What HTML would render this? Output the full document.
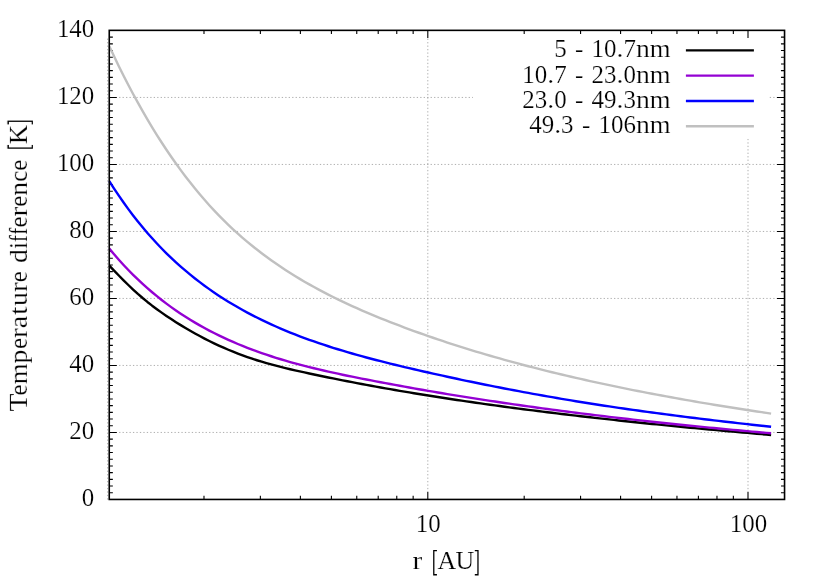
<!DOCTYPE html>
<html><head><meta charset="utf-8"><title>plot</title>
<style>html,body{margin:0;padding:0;background:#fff;}svg{display:block;}text{font-family:"Liberation Serif",serif;fill:#000;stroke:#fff;stroke-width:0.2px;}</style></head><body>
<svg width="830" height="581" viewBox="0 0 830 581">
<rect width="830" height="581" fill="#fff"/>
<g stroke="#909090" stroke-width="0.72" stroke-dasharray="1.3 2.156" fill="none">
<g stroke-dasharray="1.3 2.161">
<line x1="119.11" y1="432.45" x2="776.95" y2="432.45"/>
<line x1="119.11" y1="365.45" x2="776.95" y2="365.45"/>
<line x1="119.11" y1="298.45" x2="776.95" y2="298.45"/>
<line x1="119.11" y1="231.45" x2="776.95" y2="231.45"/>
<line x1="119.11" y1="164.45" x2="776.95" y2="164.45"/>
<line x1="119.11" y1="97.45" x2="776.95" y2="97.45"/>
</g>
<line x1="107.60" y1="499.57" x2="107.60" y2="37.95"/>
<line x1="427.80" y1="489.2" x2="427.80" y2="37.95"/>
<line x1="748.00" y1="489.2" x2="748.00" y2="37.95"/>
</g>
<rect x="473.0" y="37.8" width="296.0" height="101.00" fill="#fff"/>
<g stroke="#000" stroke-width="1.1" fill="none">
<path d="M109.25,499.45h7.6 M784.55,499.45h-7.6"/>
<path d="M109.25,492.75h3.6 M784.55,492.75h-3.6"/>
<path d="M109.25,486.05h3.6 M784.55,486.05h-3.6"/>
<path d="M109.25,479.35h3.6 M784.55,479.35h-3.6"/>
<path d="M109.25,472.65h3.6 M784.55,472.65h-3.6"/>
<path d="M109.25,465.95h3.6 M784.55,465.95h-3.6"/>
<path d="M109.25,459.25h3.6 M784.55,459.25h-3.6"/>
<path d="M109.25,452.55h3.6 M784.55,452.55h-3.6"/>
<path d="M109.25,445.85h3.6 M784.55,445.85h-3.6"/>
<path d="M109.25,439.15h3.6 M784.55,439.15h-3.6"/>
<path d="M109.25,432.45h7.6 M784.55,432.45h-7.6"/>
<path d="M109.25,425.75h3.6 M784.55,425.75h-3.6"/>
<path d="M109.25,419.05h3.6 M784.55,419.05h-3.6"/>
<path d="M109.25,412.35h3.6 M784.55,412.35h-3.6"/>
<path d="M109.25,405.65h3.6 M784.55,405.65h-3.6"/>
<path d="M109.25,398.95h3.6 M784.55,398.95h-3.6"/>
<path d="M109.25,392.25h3.6 M784.55,392.25h-3.6"/>
<path d="M109.25,385.55h3.6 M784.55,385.55h-3.6"/>
<path d="M109.25,378.85h3.6 M784.55,378.85h-3.6"/>
<path d="M109.25,372.15h3.6 M784.55,372.15h-3.6"/>
<path d="M109.25,365.45h7.6 M784.55,365.45h-7.6"/>
<path d="M109.25,358.75h3.6 M784.55,358.75h-3.6"/>
<path d="M109.25,352.05h3.6 M784.55,352.05h-3.6"/>
<path d="M109.25,345.35h3.6 M784.55,345.35h-3.6"/>
<path d="M109.25,338.65h3.6 M784.55,338.65h-3.6"/>
<path d="M109.25,331.95h3.6 M784.55,331.95h-3.6"/>
<path d="M109.25,325.25h3.6 M784.55,325.25h-3.6"/>
<path d="M109.25,318.55h3.6 M784.55,318.55h-3.6"/>
<path d="M109.25,311.85h3.6 M784.55,311.85h-3.6"/>
<path d="M109.25,305.15h3.6 M784.55,305.15h-3.6"/>
<path d="M109.25,298.45h7.6 M784.55,298.45h-7.6"/>
<path d="M109.25,291.75h3.6 M784.55,291.75h-3.6"/>
<path d="M109.25,285.05h3.6 M784.55,285.05h-3.6"/>
<path d="M109.25,278.35h3.6 M784.55,278.35h-3.6"/>
<path d="M109.25,271.65h3.6 M784.55,271.65h-3.6"/>
<path d="M109.25,264.95h3.6 M784.55,264.95h-3.6"/>
<path d="M109.25,258.25h3.6 M784.55,258.25h-3.6"/>
<path d="M109.25,251.55h3.6 M784.55,251.55h-3.6"/>
<path d="M109.25,244.85h3.6 M784.55,244.85h-3.6"/>
<path d="M109.25,238.15h3.6 M784.55,238.15h-3.6"/>
<path d="M109.25,231.45h7.6 M784.55,231.45h-7.6"/>
<path d="M109.25,224.75h3.6 M784.55,224.75h-3.6"/>
<path d="M109.25,218.05h3.6 M784.55,218.05h-3.6"/>
<path d="M109.25,211.35h3.6 M784.55,211.35h-3.6"/>
<path d="M109.25,204.65h3.6 M784.55,204.65h-3.6"/>
<path d="M109.25,197.95h3.6 M784.55,197.95h-3.6"/>
<path d="M109.25,191.25h3.6 M784.55,191.25h-3.6"/>
<path d="M109.25,184.55h3.6 M784.55,184.55h-3.6"/>
<path d="M109.25,177.85h3.6 M784.55,177.85h-3.6"/>
<path d="M109.25,171.15h3.6 M784.55,171.15h-3.6"/>
<path d="M109.25,164.45h7.6 M784.55,164.45h-7.6"/>
<path d="M109.25,157.75h3.6 M784.55,157.75h-3.6"/>
<path d="M109.25,151.05h3.6 M784.55,151.05h-3.6"/>
<path d="M109.25,144.35h3.6 M784.55,144.35h-3.6"/>
<path d="M109.25,137.65h3.6 M784.55,137.65h-3.6"/>
<path d="M109.25,130.95h3.6 M784.55,130.95h-3.6"/>
<path d="M109.25,124.25h3.6 M784.55,124.25h-3.6"/>
<path d="M109.25,117.55h3.6 M784.55,117.55h-3.6"/>
<path d="M109.25,110.85h3.6 M784.55,110.85h-3.6"/>
<path d="M109.25,104.15h3.6 M784.55,104.15h-3.6"/>
<path d="M109.25,97.45h7.6 M784.55,97.45h-7.6"/>
<path d="M109.25,90.75h3.6 M784.55,90.75h-3.6"/>
<path d="M109.25,84.05h3.6 M784.55,84.05h-3.6"/>
<path d="M109.25,77.35h3.6 M784.55,77.35h-3.6"/>
<path d="M109.25,70.65h3.6 M784.55,70.65h-3.6"/>
<path d="M109.25,63.95h3.6 M784.55,63.95h-3.6"/>
<path d="M109.25,57.25h3.6 M784.55,57.25h-3.6"/>
<path d="M109.25,50.55h3.6 M784.55,50.55h-3.6"/>
<path d="M109.25,43.85h3.6 M784.55,43.85h-3.6"/>
<path d="M109.25,37.15h3.6 M784.55,37.15h-3.6"/>
<path d="M109.25,30.45h7.6 M784.55,30.45h-7.6"/>
<path d="M203.99,499.45v-3.6 M203.99,30.35v3.6"/>
<path d="M260.37,499.45v-3.6 M260.37,30.35v3.6"/>
<path d="M300.38,499.45v-3.6 M300.38,30.35v3.6"/>
<path d="M331.41,499.45v-3.6 M331.41,30.35v3.6"/>
<path d="M356.76,499.45v-3.6 M356.76,30.35v3.6"/>
<path d="M378.20,499.45v-3.6 M378.20,30.35v3.6"/>
<path d="M396.77,499.45v-3.6 M396.77,30.35v3.6"/>
<path d="M413.15,499.45v-3.6 M413.15,30.35v3.6"/>
<path d="M427.80,499.45v-7.6 M427.80,30.35v7.6"/>
<path d="M524.19,499.45v-3.6 M524.19,30.35v3.6"/>
<path d="M580.57,499.45v-3.6 M580.57,30.35v3.6"/>
<path d="M620.58,499.45v-3.6 M620.58,30.35v3.6"/>
<path d="M651.61,499.45v-3.6 M651.61,30.35v3.6"/>
<path d="M676.96,499.45v-3.6 M676.96,30.35v3.6"/>
<path d="M698.40,499.45v-3.6 M698.40,30.35v3.6"/>
<path d="M716.97,499.45v-3.6 M716.97,30.35v3.6"/>
<path d="M733.35,499.45v-3.6 M733.35,30.35v3.6"/>
<path d="M748.00,499.45v-7.6 M748.00,30.35v7.6"/>
</g>
<path d="M109.3,265.59 L114.06,270.56 L118.82,275.48 L123.58,280.3 L128.34,284.99 L133.11,289.52 L137.87,293.88 L142.63,298.02 L147.39,301.94 L152.15,305.67 L156.91,309.23 L161.67,312.63 L166.43,315.9 L171.19,319.07 L175.96,322.14 L180.72,325.11 L185.48,327.99 L190.24,330.78 L195.0,333.47 L199.76,336.07 L204.52,338.58 L209.28,341.0 L214.05,343.33 L218.81,345.56 L223.57,347.71 L228.33,349.76 L233.09,351.73 L237.85,353.61 L242.61,355.4 L247.37,357.11 L252.13,358.72 L256.9,360.26 L261.66,361.71 L266.42,363.1 L271.18,364.43 L275.94,365.7 L280.7,366.92 L285.46,368.09 L290.22,369.22 L294.98,370.33 L299.75,371.4 L304.51,372.45 L309.27,373.48 L314.03,374.5 L318.79,375.5 L323.55,376.49 L328.31,377.47 L333.07,378.44 L337.84,379.39 L342.6,380.34 L347.36,381.27 L352.12,382.19 L356.88,383.1 L361.64,384.0 L366.4,384.89 L371.16,385.76 L375.92,386.63 L380.69,387.49 L385.45,388.34 L390.21,389.17 L394.97,390.0 L399.73,390.82 L404.49,391.63 L409.25,392.43 L414.01,393.22 L418.77,394.0 L423.54,394.77 L428.3,395.53 L433.06,396.29 L437.82,397.04 L442.58,397.77 L447.34,398.51 L452.1,399.23 L456.86,399.94 L461.63,400.65 L466.39,401.35 L471.15,402.04 L475.91,402.73 L480.67,403.41 L485.43,404.08 L490.19,404.74 L494.95,405.4 L499.71,406.05 L504.48,406.7 L509.24,407.34 L514.0,407.97 L518.76,408.59 L523.52,409.21 L528.28,409.82 L533.04,410.43 L537.8,411.03 L542.56,411.63 L547.33,412.22 L552.09,412.8 L556.85,413.38 L561.61,413.96 L566.37,414.52 L571.13,415.09 L575.89,415.64 L580.65,416.2 L585.42,416.74 L590.18,417.29 L594.94,417.83 L599.7,418.36 L604.46,418.89 L609.22,419.41 L613.98,419.93 L618.74,420.45 L623.5,420.96 L628.27,421.46 L633.03,421.97 L637.79,422.47 L642.55,422.96 L647.31,423.45 L652.07,423.94 L656.83,424.42 L661.59,424.9 L666.35,425.37 L671.12,425.84 L675.88,426.31 L680.64,426.77 L685.4,427.24 L690.16,427.69 L694.92,428.15 L699.68,428.6 L704.44,429.04 L709.21,429.49 L713.97,429.93 L718.73,430.36 L723.49,430.8 L728.25,431.23 L733.01,431.66 L737.77,432.08 L742.53,432.51 L747.29,432.92 L752.06,433.34 L756.82,433.76 L761.58,434.17 L766.34,434.57 L771.1,434.98" fill="none" stroke="#000000" stroke-width="2.4" stroke-linejoin="round" stroke-linecap="butt"/>
<path d="M109.3,248.61 L114.06,254.29 L118.82,259.74 L123.58,264.96 L128.34,269.98 L133.11,274.8 L137.87,279.43 L142.63,283.87 L147.39,288.14 L152.15,292.24 L156.91,296.18 L161.67,299.97 L166.43,303.6 L171.19,307.1 L175.96,310.46 L180.72,313.69 L185.48,316.79 L190.24,319.78 L195.0,322.65 L199.76,325.4 L204.52,328.06 L209.28,330.6 L214.05,333.05 L218.81,335.41 L223.57,337.68 L228.33,339.86 L233.09,341.96 L237.85,343.98 L242.61,345.93 L247.37,347.81 L252.13,349.62 L256.9,351.37 L261.66,353.06 L266.42,354.68 L271.18,356.25 L275.94,357.77 L280.7,359.24 L285.46,360.66 L290.22,362.03 L294.98,363.36 L299.75,364.64 L304.51,365.89 L309.27,367.1 L314.03,368.27 L318.79,369.41 L323.55,370.53 L328.31,371.61 L333.07,372.67 L337.84,373.7 L342.6,374.71 L347.36,375.71 L352.12,376.68 L356.88,377.64 L361.64,378.59 L366.4,379.52 L371.16,380.44 L375.92,381.36 L380.69,382.26 L385.45,383.16 L390.21,384.05 L394.97,384.93 L399.73,385.8 L404.49,386.66 L409.25,387.52 L414.01,388.36 L418.77,389.2 L423.54,390.03 L428.3,390.85 L433.06,391.66 L437.82,392.47 L442.58,393.27 L447.34,394.06 L452.1,394.84 L456.86,395.62 L461.63,396.38 L466.39,397.14 L471.15,397.89 L475.91,398.64 L480.67,399.38 L485.43,400.11 L490.19,400.83 L494.95,401.55 L499.71,402.26 L504.48,402.96 L509.24,403.66 L514.0,404.35 L518.76,405.03 L523.52,405.7 L528.28,406.37 L533.04,407.04 L537.8,407.69 L542.56,408.34 L547.33,408.99 L552.09,409.62 L556.85,410.26 L561.61,410.88 L566.37,411.5 L571.13,412.11 L575.89,412.72 L580.65,413.32 L585.42,413.92 L590.18,414.51 L594.94,415.1 L599.7,415.67 L604.46,416.25 L609.22,416.82 L613.98,417.38 L618.74,417.94 L623.5,418.49 L628.27,419.04 L633.03,419.58 L637.79,420.11 L642.55,420.65 L647.31,421.17 L652.07,421.69 L656.83,422.21 L661.59,422.72 L666.35,423.23 L671.12,423.73 L675.88,424.23 L680.64,424.72 L685.4,425.21 L690.16,425.7 L694.92,426.18 L699.68,426.65 L704.44,427.12 L709.21,427.59 L713.97,428.05 L718.73,428.51 L723.49,428.96 L728.25,429.41 L733.01,429.86 L737.77,430.3 L742.53,430.74 L747.29,431.17 L752.06,431.6 L756.82,432.02 L761.58,432.44 L766.34,432.86 L771.1,433.28" fill="none" stroke="#9400d3" stroke-width="2.4" stroke-linejoin="round" stroke-linecap="butt"/>
<path d="M109.3,181.1 L114.06,188.54 L118.82,195.68 L123.58,202.53 L128.34,209.11 L133.11,215.43 L137.87,221.5 L142.63,227.34 L147.39,232.94 L152.15,238.33 L156.91,243.51 L161.67,248.49 L166.43,253.28 L171.19,257.89 L175.96,262.33 L180.72,266.6 L185.48,270.71 L190.24,274.67 L195.0,278.49 L199.76,282.17 L204.52,285.72 L209.28,289.14 L214.05,292.44 L218.81,295.63 L223.57,298.71 L228.33,301.68 L233.09,304.55 L237.85,307.32 L242.61,310.01 L247.37,312.6 L252.13,315.11 L256.9,317.54 L261.66,319.89 L266.42,322.16 L271.18,324.37 L275.94,326.5 L280.7,328.57 L285.46,330.58 L290.22,332.53 L294.98,334.42 L299.75,336.26 L304.51,338.04 L309.27,339.78 L314.03,341.46 L318.79,343.1 L323.55,344.7 L328.31,346.26 L333.07,347.78 L337.84,349.26 L342.6,350.7 L347.36,352.11 L352.12,353.5 L356.88,354.85 L361.64,356.17 L366.4,357.47 L371.16,358.74 L375.92,359.98 L380.69,361.21 L385.45,362.41 L390.21,363.6 L394.97,364.77 L399.73,365.92 L404.49,367.05 L409.25,368.17 L414.01,369.28 L418.77,370.37 L423.54,371.46 L428.3,372.53 L433.06,373.6 L437.82,374.65 L442.58,375.7 L447.34,376.74 L452.1,377.77 L456.86,378.79 L461.63,379.8 L466.39,380.8 L471.15,381.79 L475.91,382.77 L480.67,383.74 L485.43,384.71 L490.19,385.66 L494.95,386.6 L499.71,387.54 L504.48,388.46 L509.24,389.38 L514.0,390.28 L518.76,391.18 L523.52,392.07 L528.28,392.94 L533.04,393.81 L537.8,394.67 L542.56,395.52 L547.33,396.36 L552.09,397.19 L556.85,398.01 L561.61,398.82 L566.37,399.62 L571.13,400.41 L575.89,401.2 L580.65,401.97 L585.42,402.73 L590.18,403.49 L594.94,404.23 L599.7,404.97 L604.46,405.7 L609.22,406.42 L613.98,407.13 L618.74,407.83 L623.5,408.52 L628.27,409.2 L633.03,409.88 L637.79,410.55 L642.55,411.21 L647.31,411.86 L652.07,412.51 L656.83,413.15 L661.59,413.78 L666.35,414.4 L671.12,415.02 L675.88,415.64 L680.64,416.24 L685.4,416.84 L690.16,417.44 L694.92,418.03 L699.68,418.61 L704.44,419.19 L709.21,419.76 L713.97,420.33 L718.73,420.89 L723.49,421.45 L728.25,422.0 L733.01,422.55 L737.77,423.09 L742.53,423.63 L747.29,424.17 L752.06,424.7 L756.82,425.22 L761.58,425.75 L766.34,426.27 L771.1,426.78" fill="none" stroke="#0000ff" stroke-width="2.4" stroke-linejoin="round" stroke-linecap="butt"/>
<path d="M109.3,46.23 L114.06,56.34 L118.82,66.16 L123.58,75.7 L128.34,84.96 L133.11,93.95 L137.87,102.68 L142.63,111.14 L147.39,119.35 L152.15,127.3 L156.91,135.02 L161.67,142.49 L166.43,149.73 L171.19,156.74 L175.96,163.53 L180.72,170.1 L185.48,176.46 L190.24,182.6 L195.0,188.54 L199.76,194.28 L204.52,199.83 L209.28,205.18 L214.05,210.35 L218.81,215.34 L223.57,220.15 L228.33,224.79 L233.09,229.28 L237.85,233.61 L242.61,237.8 L247.37,241.85 L252.13,245.77 L256.9,249.56 L261.66,253.23 L266.42,256.79 L271.18,260.24 L275.94,263.58 L280.7,266.82 L285.46,269.96 L290.22,273.02 L294.98,275.99 L299.75,278.87 L304.51,281.67 L309.27,284.4 L314.03,287.06 L318.79,289.64 L323.55,292.16 L328.31,294.62 L333.07,297.02 L337.84,299.36 L342.6,301.65 L347.36,303.88 L352.12,306.07 L356.88,308.21 L361.64,310.3 L366.4,312.36 L371.16,314.37 L375.92,316.35 L380.69,318.29 L385.45,320.2 L390.21,322.07 L394.97,323.92 L399.73,325.74 L404.49,327.53 L409.25,329.3 L414.01,331.04 L418.77,332.75 L423.54,334.44 L428.3,336.11 L433.06,337.75 L437.82,339.37 L442.58,340.96 L447.34,342.54 L452.1,344.09 L456.86,345.62 L461.63,347.13 L466.39,348.61 L471.15,350.08 L475.91,351.53 L480.67,352.96 L485.43,354.36 L490.19,355.75 L494.95,357.12 L499.71,358.47 L504.48,359.81 L509.24,361.12 L514.0,362.42 L518.76,363.7 L523.52,364.97 L528.28,366.22 L533.04,367.45 L537.8,368.67 L542.56,369.87 L547.33,371.05 L552.09,372.22 L556.85,373.38 L561.61,374.52 L566.37,375.65 L571.13,376.76 L575.89,377.86 L580.65,378.95 L585.42,380.02 L590.18,381.08 L594.94,382.13 L599.7,383.16 L604.46,384.18 L609.22,385.19 L613.98,386.19 L618.74,387.18 L623.5,388.15 L628.27,389.11 L633.03,390.07 L637.79,391.01 L642.55,391.94 L647.31,392.86 L652.07,393.77 L656.83,394.66 L661.59,395.55 L666.35,396.43 L671.12,397.3 L675.88,398.16 L680.64,399.01 L685.4,399.85 L690.16,400.68 L694.92,401.51 L699.68,402.32 L704.44,403.13 L709.21,403.92 L713.97,404.71 L718.73,405.49 L723.49,406.27 L728.25,407.03 L733.01,407.79 L737.77,408.54 L742.53,409.28 L747.29,410.01 L752.06,410.74 L756.82,411.46 L761.58,412.17 L766.34,412.87 L771.1,413.57" fill="none" stroke="#c0c0c0" stroke-width="2.4" stroke-linejoin="round" stroke-linecap="butt"/>
<rect x="109.25" y="30.35" width="675.30" height="469.10" fill="none" stroke="#000" stroke-width="1.6"/>
<g opacity="0.999">
<text transform="translate(81.83,505.55) scale(0.978,1)" font-size="25.5">0</text>
<text transform="translate(69.35,438.55) scale(0.978,1)" font-size="25.5">2</text>
<text transform="translate(81.82,438.55) scale(0.978,1)" font-size="25.5">0</text>
<text transform="translate(69.35,371.55) scale(0.978,1)" font-size="25.5">4</text>
<text transform="translate(81.82,371.55) scale(0.978,1)" font-size="25.5">0</text>
<text transform="translate(69.35,304.55) scale(0.978,1)" font-size="25.5">6</text>
<text transform="translate(81.82,304.55) scale(0.978,1)" font-size="25.5">0</text>
<text transform="translate(69.35,237.55) scale(0.978,1)" font-size="25.5">8</text>
<text transform="translate(81.82,237.55) scale(0.978,1)" font-size="25.5">0</text>
<text transform="translate(56.88,170.55) scale(0.978,1)" font-size="25.5">1</text>
<text transform="translate(69.35,170.55) scale(0.978,1)" font-size="25.5">0</text>
<text transform="translate(81.82,170.55) scale(0.978,1)" font-size="25.5">0</text>
<text transform="translate(56.88,103.55) scale(0.978,1)" font-size="25.5">1</text>
<text transform="translate(69.35,103.55) scale(0.978,1)" font-size="25.5">2</text>
<text transform="translate(81.82,103.55) scale(0.978,1)" font-size="25.5">0</text>
<text transform="translate(56.88,36.55) scale(0.978,1)" font-size="25.5">1</text>
<text transform="translate(69.35,36.55) scale(0.978,1)" font-size="25.5">4</text>
<text transform="translate(81.82,36.55) scale(0.978,1)" font-size="25.5">0</text>
<text transform="translate(415.82,531.80) scale(0.978,1)" font-size="25.5">1</text>
<text transform="translate(428.30,531.80) scale(0.978,1)" font-size="25.5">0</text>
<text transform="translate(729.69,531.80) scale(0.978,1)" font-size="25.5">1</text>
<text transform="translate(742.16,531.80) scale(0.978,1)" font-size="25.5">0</text>
<text transform="translate(754.64,531.80) scale(0.978,1)" font-size="25.5">0</text>
<text transform="translate(412.50,569.40) scale(1.151,1)" font-size="25.5">r</text>
<path d="M436.95,550.65H433.78V574.75H436.95" fill="none" stroke="#000" stroke-width="1.3"/>
<text transform="translate(437.52,569.40) scale(1.016,1)" font-size="25.5">A</text>
<text transform="translate(455.54,569.40) scale(1.016,1)" font-size="25.5">U</text>
<path d="M474.80,550.65H477.97V574.75H474.80" fill="none" stroke="#000" stroke-width="1.3"/>
<g transform="translate(26.9,0) rotate(-90)">
<text transform="translate(-411.40,0.00) scale(1.157,1)" font-size="25.5">T</text>
<text transform="translate(-395.46,0.00) scale(0.979,1)" font-size="25.5">e</text>
<text transform="translate(-384.37,0.00) scale(1.048,1)" font-size="25.5">m</text>
<text transform="translate(-363.58,0.00) scale(1.087,1)" font-size="25.5">p</text>
<text transform="translate(-349.02,0.00) scale(0.979,1)" font-size="25.5">e</text>
<text transform="translate(-337.94,0.00) scale(1.151,1)" font-size="25.5">r</text>
<text transform="translate(-328.16,0.00) scale(1.102,1)" font-size="25.5">a</text>
<text transform="translate(-315.09,0.00) scale(1.200,1)" font-size="25.5">t</text>
<text transform="translate(-305.99,0.00) scale(1.087,1)" font-size="25.5">u</text>
<text transform="translate(-292.12,0.00) scale(1.151,1)" font-size="25.5">r</text>
<text transform="translate(-282.35,0.00) scale(0.979,1)" font-size="25.5">e</text>
<text transform="translate(-262.95,0.00) scale(1.087,1)" font-size="25.5">d</text>
<text transform="translate(-249.09,0.00) scale(0.978,1)" font-size="25.5">i</text>
<text transform="translate(-242.15,0.00) scale(0.857,1)" font-size="25.5">f</text>
<text transform="translate(-234.88,0.00) scale(0.857,1)" font-size="25.5">f</text>
<text transform="translate(-227.60,0.00) scale(0.979,1)" font-size="25.5">e</text>
<text transform="translate(-216.51,0.00) scale(1.151,1)" font-size="25.5">r</text>
<text transform="translate(-206.74,0.00) scale(0.979,1)" font-size="25.5">e</text>
<text transform="translate(-195.65,0.00) scale(1.087,1)" font-size="25.5">n</text>
<text transform="translate(-181.79,0.00) scale(0.979,1)" font-size="25.5">c</text>
<text transform="translate(-170.70,0.00) scale(0.979,1)" font-size="25.5">e</text>
<path d="M-144.93,-18.75H-148.10V5.35H-144.93" fill="none" stroke="#000" stroke-width="1.3"/>
<text transform="translate(-144.37,0.00) scale(1.054,1)" font-size="25.5">K</text>
<path d="M-124.41,-18.75H-121.24V5.35H-124.41" fill="none" stroke="#000" stroke-width="1.3"/>
</g>
<text transform="translate(554.17,57.27) scale(0.978,1)" font-size="25.5">5</text>
<text transform="translate(574.96,57.27) scale(0.979,1)" font-size="25.5">-</text>
<text transform="translate(591.59,57.27) scale(0.978,1)" font-size="25.5">1</text>
<text transform="translate(604.07,57.27) scale(0.978,1)" font-size="25.5">0</text>
<text transform="translate(616.54,57.27) scale(1.087,1)" font-size="25.5">.</text>
<text transform="translate(623.47,57.27) scale(0.978,1)" font-size="25.5">7</text>
<text transform="translate(635.95,57.27) scale(1.087,1)" font-size="25.5">n</text>
<text transform="translate(649.81,57.27) scale(1.048,1)" font-size="25.5">m</text>
<line x1="685.9" y1="50.37" x2="753.9" y2="50.37" stroke="#000000" stroke-width="2.4"/>
<text transform="translate(522.29,82.57) scale(0.978,1)" font-size="25.5">1</text>
<text transform="translate(534.76,82.57) scale(0.978,1)" font-size="25.5">0</text>
<text transform="translate(547.24,82.57) scale(1.087,1)" font-size="25.5">.</text>
<text transform="translate(554.17,82.57) scale(0.978,1)" font-size="25.5">7</text>
<text transform="translate(574.96,82.57) scale(0.979,1)" font-size="25.5">-</text>
<text transform="translate(591.59,82.57) scale(0.978,1)" font-size="25.5">2</text>
<text transform="translate(604.07,82.57) scale(0.978,1)" font-size="25.5">3</text>
<text transform="translate(616.54,82.57) scale(1.087,1)" font-size="25.5">.</text>
<text transform="translate(623.47,82.57) scale(0.978,1)" font-size="25.5">0</text>
<text transform="translate(635.95,82.57) scale(1.087,1)" font-size="25.5">n</text>
<text transform="translate(649.81,82.57) scale(1.048,1)" font-size="25.5">m</text>
<line x1="685.9" y1="75.67" x2="753.9" y2="75.67" stroke="#9400d3" stroke-width="2.4"/>
<text transform="translate(522.29,107.87) scale(0.978,1)" font-size="25.5">2</text>
<text transform="translate(534.76,107.87) scale(0.978,1)" font-size="25.5">3</text>
<text transform="translate(547.24,107.87) scale(1.087,1)" font-size="25.5">.</text>
<text transform="translate(554.17,107.87) scale(0.978,1)" font-size="25.5">0</text>
<text transform="translate(574.96,107.87) scale(0.979,1)" font-size="25.5">-</text>
<text transform="translate(591.59,107.87) scale(0.978,1)" font-size="25.5">4</text>
<text transform="translate(604.07,107.87) scale(0.978,1)" font-size="25.5">9</text>
<text transform="translate(616.54,107.87) scale(1.087,1)" font-size="25.5">.</text>
<text transform="translate(623.47,107.87) scale(0.978,1)" font-size="25.5">3</text>
<text transform="translate(635.95,107.87) scale(1.087,1)" font-size="25.5">n</text>
<text transform="translate(649.81,107.87) scale(1.048,1)" font-size="25.5">m</text>
<line x1="685.9" y1="100.97" x2="753.9" y2="100.97" stroke="#0000ff" stroke-width="2.4"/>
<text transform="translate(529.22,133.17) scale(0.978,1)" font-size="25.5">4</text>
<text transform="translate(541.69,133.17) scale(0.978,1)" font-size="25.5">9</text>
<text transform="translate(554.17,133.17) scale(1.087,1)" font-size="25.5">.</text>
<text transform="translate(561.10,133.17) scale(0.978,1)" font-size="25.5">3</text>
<text transform="translate(581.89,133.17) scale(0.979,1)" font-size="25.5">-</text>
<text transform="translate(598.52,133.17) scale(0.978,1)" font-size="25.5">1</text>
<text transform="translate(611.00,133.17) scale(0.978,1)" font-size="25.5">0</text>
<text transform="translate(623.47,133.17) scale(0.978,1)" font-size="25.5">6</text>
<text transform="translate(635.95,133.17) scale(1.087,1)" font-size="25.5">n</text>
<text transform="translate(649.81,133.17) scale(1.048,1)" font-size="25.5">m</text>
<line x1="685.9" y1="126.27" x2="753.9" y2="126.27" stroke="#c0c0c0" stroke-width="2.4"/>
</g>
</svg></body></html>
